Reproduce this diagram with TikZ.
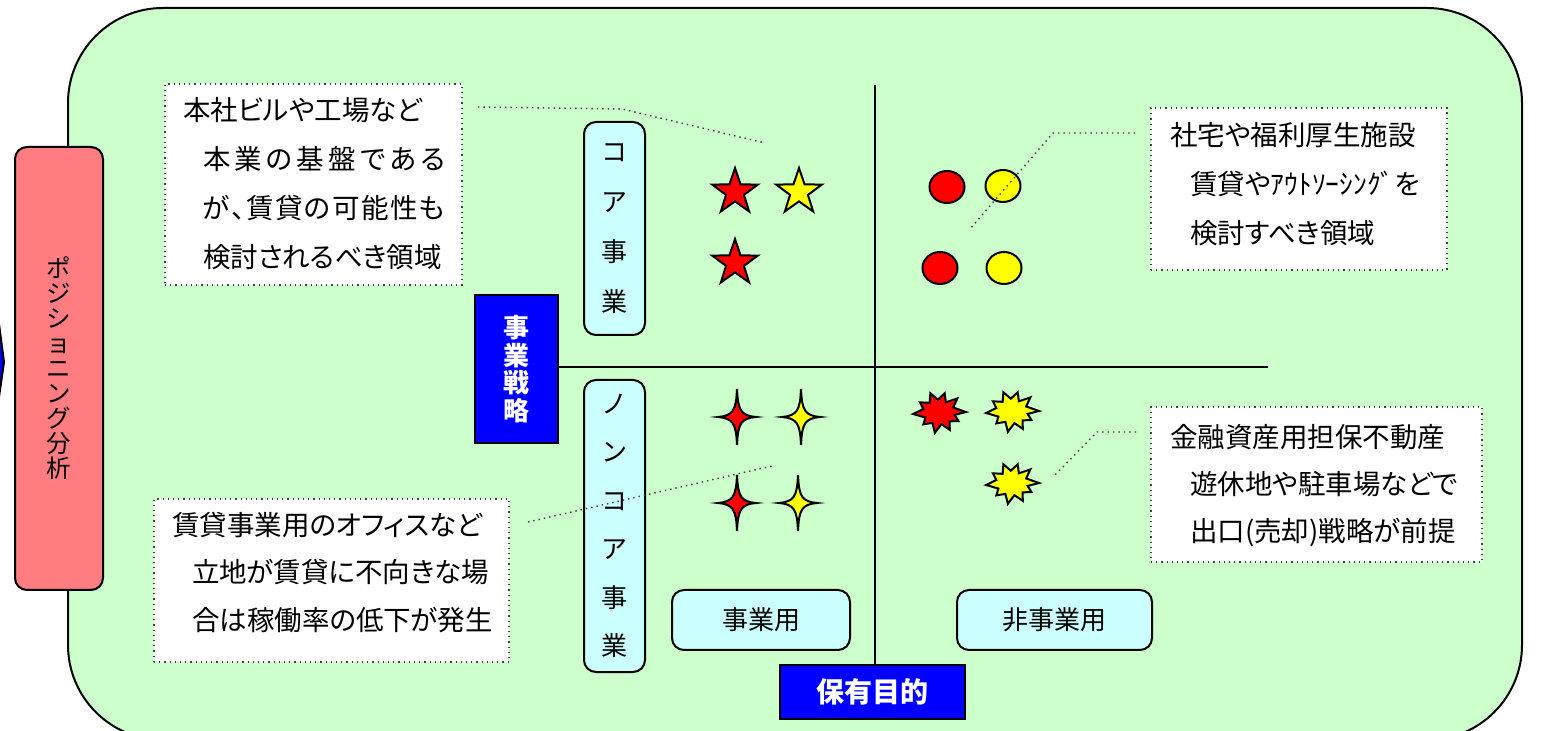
\documentclass[tikz,border=0pt]{standalone}
\usepackage{fontspec}
\setmainfont{Noto Sans CJK JP}
\newfontfamily\pfont{Noto Sans CJK JP}[RawFeature=+palt]
\usetikzlibrary{calc,shapes.geometric}
\definecolor{bggreen}{RGB}{204,255,204}
\definecolor{lcyan}{RGB}{204,255,255}
\definecolor{pinkred}{RGB}{255,124,128}
\definecolor{pureblue}{RGB}{0,0,255}
\definecolor{symred}{RGB}{255,0,0}
\definecolor{symyellow}{RGB}{255,255,0}
\begin{document}
\begin{tikzpicture}[x=0.5pt,y=-0.5pt,
  every node/.style={inner sep=0pt, outer sep=0pt},
  frame/.style={draw=black, line width=1pt, fill=bggreen, rounded corners=47.5pt},
  redbox/.style={draw=black, line width=1pt, fill=pinkred, rounded corners=6pt, align=center, font=\fontsize{12.25}{12.5}\selectfont},
  cyanbox/.style={draw=black, line width=1pt, fill=lcyan, rounded corners=6pt, align=center, font=\fontsize{13}{25}\selectfont},
  bluebox/.style={draw=black, line width=1pt, fill=pureblue, text=white, align=center},
  callbox/.style={draw=black!75, dotted, line width=0.6pt, fill=white},
  calltext/.style={align=left, font=\pfont\fontsize{13.75}{24.5}\selectfont, anchor=north west},
  leaderline/.style={draw=black!75, dotted, line width=0.7pt},
  axis/.style={draw=black, line width=0.75pt},
  sym/.style={draw=black, line width=1pt, line join=miter},
  star5/.pic={\path[sym, pic actions] (270:24) -- (306:9.4) -- (342:24) -- (18:9.4) -- (54:24) -- (90:9.4) -- (126:24) -- (162:9.4) -- (198:24) -- (234:9.4) -- cycle;},
  star4/.pic={\path[sym, pic actions] (0,-28) .. controls (1,-6) and (4,-1.5) .. (19,0) .. controls (4,1.5) and (1,6) .. (0,28) .. controls (-1,6) and (-4,1.5) .. (-19,0) .. controls (-4,-1.5) and (-1,-6) .. (0,-28) -- cycle;},
  boom/.pic={\path[sym, pic actions, yscale=0.88] (0:27) -- (12:16) -- (28:22) -- (45:15) -- (62:23) -- (80:14) -- (100:24) -- (118:14) -- (138:21) -- (155:15) -- (175:26) -- (192:16) -- (210:22) -- (228:14) -- (248:23) -- (265:14) -- (285:22) -- (302:13) -- (320:24) -- (340:15) -- cycle;}
]
\useasboundingbox (0,0) rectangle (1542,731);
\begin{scope}
\clip (0,0) rectangle (1542,731);
\path[frame] (68,8) rectangle (1522,740);
\path[draw=black, line width=1pt, fill=pureblue] (-6,286) -- (4,362) -- (-6,432) -- cycle;
\end{scope}

% left label
\node[redbox, minimum width=44pt, minimum height=221.5pt] (pos) at (59,368.5) {ポ\\ジ\\シ\\ョ\\ニ\\ン\\グ\\分\\析};

% axes
\coordinate (hend) at (1268,367);
\coordinate (vtop) at (875,85);
\node[bluebox, minimum width=41.5pt, minimum height=74pt, font=\fontsize{13}{13.75}\selectfont\bfseries] (senryaku) at (516.5,369) {事\\業\\戦\\略};
\node[bluebox, minimum width=92.5pt, minimum height=27pt, font=\fontsize{14}{16}\selectfont\bfseries] (hoyu) at (872.5,692) {保有目的};
\draw[axis] (senryaku.east |- hend) -- (hend);
\draw[axis] (vtop) -- (vtop |- hoyu.north);

% category boxes
\node[cyanbox, minimum width=30.5pt, minimum height=106.5pt] (core) at (614.5,228.5) {コ\\ア\\事\\業};
\node[cyanbox, minimum width=30.5pt, minimum height=146pt, font=\fontsize{13}{24.25}\selectfont] (noncore) at (614.5,526) {ノ\\ン\\コ\\ア\\事\\業};
\node[cyanbox, minimum width=89pt, minimum height=30pt] (jigyo) at (761,620) {事業用};
\node[cyanbox, minimum width=97.5pt, minimum height=30pt] (hijigyo) at (1054.5,620) {非事業用};

% callouts
\node[callbox, minimum width=148.5pt, minimum height=100.5pt] (c1) at (313.5,184.5) {};
\node[calltext] (t1) at (183,97) {本社ビルや工場など\\\hspace*{10pt}\makebox[121pt][s]{本\hfill 業\hfill の\hfill 基\hfill 盤\hfill で\hfill あ\hfill る}\\\hspace*{10pt}\makebox[121pt][s]{が\hfill 、\hfill 賃\hfill 貸\hfill の\hfill 可\hfill 能\hfill 性\hfill も}\\\hspace*{10pt}検討されるべき領域};

\node[callbox, minimum width=148pt, minimum height=81pt] (c2) at (1299,189) {};
\node[calltext] (t2) at (1170,122) {社宅や福利厚生施設\\\hspace*{10pt}賃貸やｱｳﾄｿｰｼﾝｸﾞを\\\hspace*{10pt}検討すべき領域};

\node[callbox, minimum width=165.5pt, minimum height=77.5pt] (c3) at (1316.5,484.5) {};
\node[calltext, font=\pfont\fontsize{13.75}{23.5}\selectfont] (t3) at (1170,424) {金融資産用担保不動産\\\hspace*{10pt}遊休地や駐車場などで\\\hspace*{10pt}出口(売却)戦略が前提};

\node[callbox, minimum width=177.5pt, minimum height=81.5pt] (c4) at (331.5,580.5) {};
\node[calltext, font=\pfont\fontsize{13.75}{23.75}\selectfont] (t4) at (172,512) {賃貸事業用のオフィスなど\\\hspace*{10pt}立地が賃貸に不向きな場\\\hspace*{10pt}合は稼働率の低下が発生};

% symbols
\pic[fill=symred] (sa) at (735,192) {star5};
\pic[fill=symyellow] (sb) at (799,192) {star5};
\pic[fill=symred] (sc) at (735,263) {star5};

\node[sym, ellipse, fill=symred, minimum width=17.5pt, minimum height=16pt] (ca) at (947,187) {};
\node[sym, ellipse, fill=symyellow, minimum width=17.5pt, minimum height=16pt] (cb) at (1003,186) {};
\node[sym, ellipse, fill=symred, minimum width=17.5pt, minimum height=16pt] (cc) at (940,268) {};
\node[sym, ellipse, fill=symyellow, minimum width=17.5pt, minimum height=16pt] (cd) at (1004,268) {};

\pic[fill=symred] (fa) at (737,417) {star4};
\pic[fill=symyellow] (fb) at (801,417) {star4};
\pic[fill=symred] (fc) at (737,503) {star4};
\pic[fill=symyellow] (fd) at (798,503) {star4};

\pic[fill=symred] (ba) at (939,412) {boom};
\pic[fill=symyellow] (bb) at (1012,411) {boom};
\pic[fill=symyellow] (bc) at (1012,483) {boom};

% leader lines
\coordinate (l1a) at (478,107);
\coordinate (l1b) at (622,109);
\coordinate (l1c) at (765,143);
\draw[leaderline] (l1a) -- (l1b) -- (l1c);
\coordinate (l2a) at (1135,133);
\coordinate (l2b) at (1053,133);
\coordinate (l2c) at (970,229);
\draw[leaderline] (l2a) -- (l2b) -- (l2c);
\coordinate (l3a) at (1136,432);
\coordinate (l3b) at (1097,432);
\coordinate (l3c) at (1055,475);
\draw[leaderline] (l3a) -- (l3b) -- (l3c);
\coordinate (l4a) at (528,522);
\coordinate (l4b) at (772,466);
\draw[leaderline] (l4a) -- (l4b);
\end{tikzpicture}
\end{document}
